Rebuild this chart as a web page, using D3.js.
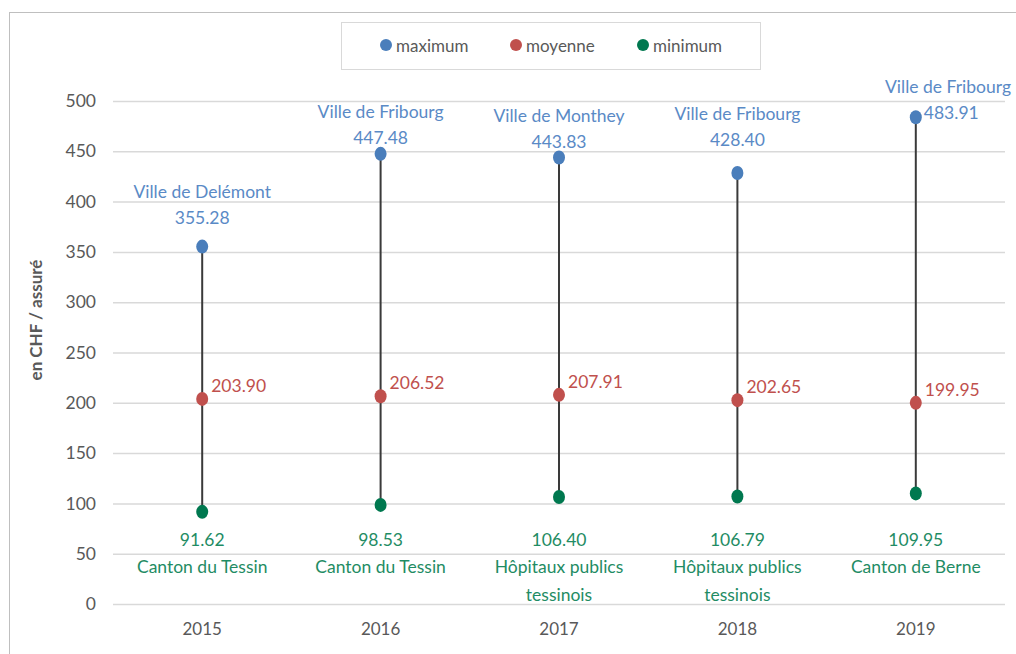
<!DOCTYPE html>
<html>
<head>
<meta charset="utf-8">
<script src="https://cdn.jsdelivr.net/npm/d3@7"></script>
<style>
  body { margin: 0; background: #fff; }
  svg { display: block; font-family: Lato, "Open Sans", sans-serif; }
</style>
</head>
<body>
<div id="chart"></div>
<script>
// Data
const years = ["2015", "2016", "2017", "2018", "2019"];
const maxValues = [355.28, 447.48, 443.83, 428.40, 483.91];
const maxNames = ["Ville de Delémont", "Ville de Fribourg", "Ville de Monthey", "Ville de Fribourg", "Ville de Fribourg"];
const meanValues = [203.90, 206.52, 207.91, 202.65, 199.95];
const minValues = [91.62, 98.53, 106.40, 106.79, 109.95];
const minNames = [["Canton du Tessin"], ["Canton du Tessin"], ["Hôpitaux publics", "tessinois"], ["Hôpitaux publics", "tessinois"], ["Canton de Berne"]];
const yTicks = [0, 50, 100, 150, 200, 250, 300, 350, 400, 450, 500];

/*******************************/
/*    Declare the constants    */
/*******************************/
const width = 1016;
const height = 654;
const margin = {top: 101, right: 11, bottom: 50, left: 113};
const colors = {max: "#4a7ebb", mean: "#c0504d", min: "#00784f"};
const textColors = {max: "#5a8ac6", mean: "#c0504d", min: "#1f8c64"};
const gray = "#595959";
const labelSize = "17.5px";

const svg = d3.select("#chart")
  .append("svg")
    .attr("width", width)
    .attr("height", height);

// outer frame
svg.append("rect")
  .attr("x", 9.5).attr("y", 12.5)
  .attr("width", width).attr("height", height)
  .attr("fill", "none")
  .attr("stroke", "#bfbfbf");

/****************************/
/*    Declare the scales    */
/****************************/
const xScale = d3.scaleBand()
  .domain(years)
  .range([margin.left, width - margin.right]);

const yScale = d3.scaleLinear()
  .domain([0, 500])
  .range([604, margin.top]);

/**************************/
/*      Add the axes      */
/**************************/
const leftAxis = d3.axisLeft(yScale)
  .tickValues(yTicks)
  .tickSize(-(xScale.range()[1] - xScale.range()[0]))
  .tickPadding(17);
const gy = svg.append("g")
  .attr("transform", `translate(${margin.left}, 0)`)
  .call(leftAxis)
  .attr("font-family", null);
gy.select(".domain").remove();
gy.selectAll(".tick line").attr("stroke", "#d9d9d9").attr("stroke-width", 1.5);
gy.selectAll(".tick text")
  .attr("fill", gray)
  .style("font-size", "17.5px");

const bottomAxis = d3.axisBottom(xScale).tickSize(0).tickPadding(19);
const gx = svg.append("g")
  .attr("transform", `translate(0, 604)`)
  .call(bottomAxis)
  .attr("font-family", null);
gx.select(".domain").remove();
gx.selectAll(".tick text")
  .attr("fill", gray)
  .style("font-size", "17px");

svg.append("text")
  .attr("transform", "translate(42, 320) rotate(-90)")
  .attr("text-anchor", "middle")
  .attr("fill", gray)
  .style("font-size", "17px")
  .style("font-weight", "bold")
  .text("en CHF / assuré");

/*******************************/
/*    Append the shapes        */
/*******************************/
const cx = i => xScale(years[i]) + xScale.bandwidth() / 2;

// high-low lines
svg.append("g")
  .selectAll("line")
  .data(years)
  .join("line")
    .attr("x1", (d, i) => cx(i))
    .attr("x2", (d, i) => cx(i))
    .attr("y1", (d, i) => yScale(maxValues[i]))
    .attr("y2", (d, i) => yScale(minValues[i]))
    .attr("stroke", "#3a3a3a")
    .attr("stroke-width", 2);

const drawMarkers = (values, color) => {
  svg.append("g")
    .selectAll("ellipse")
    .data(values)
    .join("ellipse")
      .attr("cx", (d, i) => cx(i))
      .attr("cy", d => yScale(d))
      .attr("rx", 6)
      .attr("ry", 7)
      .attr("fill", color);
};
drawMarkers(maxValues, colors.max);
drawMarkers(meanValues, colors.mean);
drawMarkers(minValues, colors.min);

// labels of the maximum (placed by hand in the original)
const maxLabelDy = [-29, -16, -16, -33, -4];
const maxLabels = svg.append("g")
  .style("font-size", labelSize)
  .attr("fill", textColors.max);
years.forEach((y, i) => {
  const x = cx(i);
  const yv = yScale(maxValues[i]) + maxLabelDy[i];
  if (i === years.length - 1) {
    maxLabels.append("text")
      .attr("x", x + 8).attr("y", yv).attr("dy", "0.35em")
      .text(maxValues[i].toFixed(2));
    maxLabels.append("text")
      .attr("x", width - 5).attr("y", yv - 26).attr("dy", "0.35em")
      .attr("text-anchor", "end")
      .text(maxNames[i]);
  } else {
    maxLabels.append("text")
      .attr("x", x).attr("y", yv).attr("dy", "0.35em")
      .attr("text-anchor", "middle")
      .text(maxValues[i].toFixed(2));
    maxLabels.append("text")
      .attr("x", x).attr("y", yv - 26).attr("dy", "0.35em")
      .attr("text-anchor", "middle")
      .text(maxNames[i]);
  }
});

// labels of the mean
svg.append("g")
  .style("font-size", labelSize)
  .attr("fill", textColors.mean)
  .selectAll("text")
  .data(meanValues)
  .join("text")
    .attr("x", (d, i) => cx(i) + 9)
    .attr("y", d => yScale(d) - 13)
    .attr("dy", "0.35em")
    .text(d => d.toFixed(2));

// labels of the minimum, aligned on one row under the markers
const minRowY = yScale(0) - 64;
const minLabels = svg.append("g")
  .style("font-size", labelSize)
  .attr("fill", textColors.min)
  .attr("text-anchor", "middle");
years.forEach((y, i) => {
  const x = cx(i);
  minLabels.append("text")
    .attr("x", x).attr("y", minRowY).attr("dy", "0.35em")
    .text(minValues[i].toFixed(2));
  minNames[i].forEach((line, j) => {
    minLabels.append("text")
      .attr("x", x).attr("y", minRowY + 27 + j * 28).attr("dy", "0.35em")
      .text(line);
  });
});

/**************************/
/*       Legend           */
/**************************/
const legend = svg.append("g");
legend.append("rect")
  .attr("x", 341.5).attr("y", 22.5)
  .attr("width", 419).attr("height", 47)
  .attr("fill", "#fff")
  .attr("stroke", "#d9d9d9");
const legendItems = [
  {label: "maximum", color: colors.max, x: 386},
  {label: "moyenne", color: colors.mean, x: 516},
  {label: "minimum", color: colors.min, x: 643}
];
legendItems.forEach(item => {
  legend.append("circle")
    .attr("cx", item.x).attr("cy", 45)
    .attr("r", 6)
    .attr("fill", item.color);
  legend.append("text")
    .attr("x", item.x + 10).attr("y", 46).attr("dy", "0.35em")
    .attr("fill", gray)
    .style("font-size", "17px")
    .text(item.label);
});
</script>
</body>
</html>
